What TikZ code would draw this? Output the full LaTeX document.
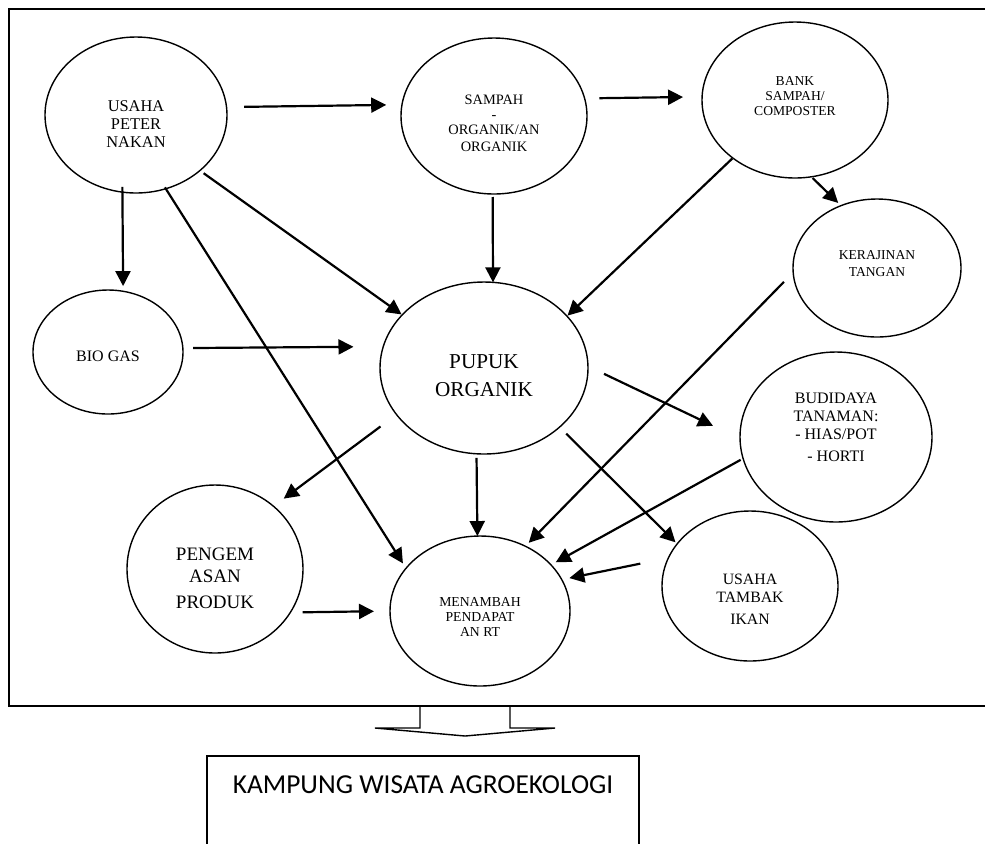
\documentclass[tikz,border=0pt]{standalone}
\usepackage{fontspec}
\setmainfont{Liberation Serif}
\newfontfamily\calibri{Carlito}
\usetikzlibrary{shapes.geometric,arrows.meta}
\newcommand{\blobtext}[2]{\raisebox{#1}[0pt][0pt]{\begin{tabular}{@{}c@{}}#2\end{tabular}}}

\begin{document}
\begin{tikzpicture}[x=0.5pt,y=-0.5pt,
  blob/.style={ellipse, draw, line width=0.7pt, inner sep=0pt, outer sep=0pt},
  arr/.style={-{Triangle[length=7.5pt,width=7.5pt]}, line width=1.1pt},
  goal/.style={draw, line width=0.75pt, outer sep=0pt, inner xsep=0pt}]

\useasboundingbox (0,0) rectangle (985,843);

% Define nodes
\node[blob, minimum width=91pt, minimum height=78pt, font={\fontsize{8.2}{9}\selectfont}]
  (usaha) at (136,115) {\blobtext{-7.46pt}{USAHA\\PETER\\NAKAN}};
\node[blob, minimum width=93pt, minimum height=78pt, font={\fontsize{7.2}{7.5}\selectfont}]
  (sampah) at (494,116) {\blobtext{-6.18pt}{SAMPAH\\-\\ORGANIK/AN\\[1pt]ORGANIK}};
\node[blob, minimum width=93pt, minimum height=78pt, font={\fontsize{6.8}{7.5}\selectfont}]
  (bank) at (795,100) {\blobtext{-0.55pt}{BANK\\SAMPAH/\\COMPOSTER}};
\node[blob, minimum width=84pt, minimum height=69pt, font={\fontsize{6.8}{8.5}\selectfont}]
  (kerajinan) at (877,268) {\blobtext{0.1pt}{KERAJINAN\\TANGAN}};
\node[blob, minimum width=75pt, minimum height=62pt, font={\fontsize{8}{9.6}\selectfont}]
  (biogas) at (108,352) {\blobtext{-4.73pt}{BIO GAS}};
\node[blob, minimum width=104pt, minimum height=86pt, font={\fontsize{10.6}{13.8}\selectfont}]
  (pupuk) at (484,368) {\blobtext{-7.15pt}{PUPUK\\ORGANIK}};
\node[blob, minimum width=96pt, minimum height=85pt, font={\fontsize{8}{9}\selectfont}]
  (budidaya) at (836,437) {\blobtext{1.95pt}{BUDIDAYA\\TANAMAN:\\- HIAS/POT\\[2pt]- HORTI}};
\node[blob, minimum width=88pt, minimum height=75pt, font={\fontsize{7.9}{9}\selectfont}]
  (tambak) at (750,586) {\blobtext{-9.4pt}{USAHA\\TAMBAK\\[1.75pt]IKAN}};
\node[blob, minimum width=88pt, minimum height=84pt, font={\fontsize{9.5}{11}\selectfont}]
  (kemasan) at (215,569) {\blobtext{-7.97pt}{PENGEM\\ASAN\\[2pt]PRODUK}};
\node[blob, minimum width=90pt, minimum height=75pt, font={\fontsize{6.85}{7.5}\selectfont}]
  (tambah) at (480,611) {\blobtext{-5.43pt}{MENAMBAH\\PENDAPAT\\AN RT}};
\node[goal, anchor=north, minimum width=216pt, text height=12pt, text depth=60pt,
  inner ysep=6.5pt, font={\calibri\fontsize{13.7}{16}\selectfont}]
  (wisata) at (423,756) {KAMPUNG WISATA AGROEKOLOGI};

% Connect the nodes
\draw[arr, shorten <=8.8pt, shorten >=7.9pt] (usaha.5.7) -- (sampah.173.8);
\draw[arr, shorten <=7.4pt, shorten >=9.5pt] (sampah.11.9) -- (bank.178.2);
\draw[arr, shorten <=-2.6pt, shorten >=2.6pt] (usaha.260.4) -- (biogas.76.1);
\draw[arr, shorten <=2.3pt, shorten >=0.4pt] (usaha.319.3) -- (pupuk.147.5);
\draw[arr, shorten <=-0.8pt, shorten >=2.9pt] (usaha.292.8) -- (tambah.150.7);
\draw[arr, shorten <=1.5pt] (sampah.269.3) -- (pupuk.84);
\draw[arr, shorten <=0.35pt, shorten >=0.4pt] (bank.223.6) -- (pupuk.32.5);
\draw[arr, shorten <=0.9pt, shorten >=1.95pt] (bank.282.3) -- (kerajinan.120.2);
\draw[arr, shorten <=5.1pt, shorten >=14.9pt] (biogas.3.1) -- (pupuk.168.8);
\draw[arr, shorten <=10pt, shorten >=6.4pt] (pupuk.208.6) -- (kemasan.47.8);
\draw[arr, shorten <=2.1pt] (pupuk.265.3) -- (tambah.92.3);
\draw[arr, shorten <=8.9pt, shorten >=15pt] (pupuk.1) -- (budidaya.181.9);
\draw[arr, shorten <=4.7pt, shorten >=1.15pt] (pupuk.322.7) -- (tambak.150.6);
\draw[arr, shorten <=6.6pt, shorten >=2.4pt] (kerajinan.183.8) -- (tambah.55.2);
\draw[arr, shorten <=1.4pt, shorten >=2.7pt] (budidaya.193.7) -- (tambah.33.1);
\draw[arr, shorten <=14.35pt, shorten >=3.9pt] (tambak.161.4) -- (tambah.21.8);
\draw[arr, shorten <=6.2pt, shorten >=8pt] (kemasan.330.4) -- (tambah.180);

% Frame and block arrow
\draw[line width=1pt] (9,9) rectangle (1010,706);
\draw[line width=0.7pt] (420,706) -- (420,728) -- (375,728) -- (465,736)
  -- (555,728) -- (510,728) -- (510,706);

\end{tikzpicture}
\end{document}
